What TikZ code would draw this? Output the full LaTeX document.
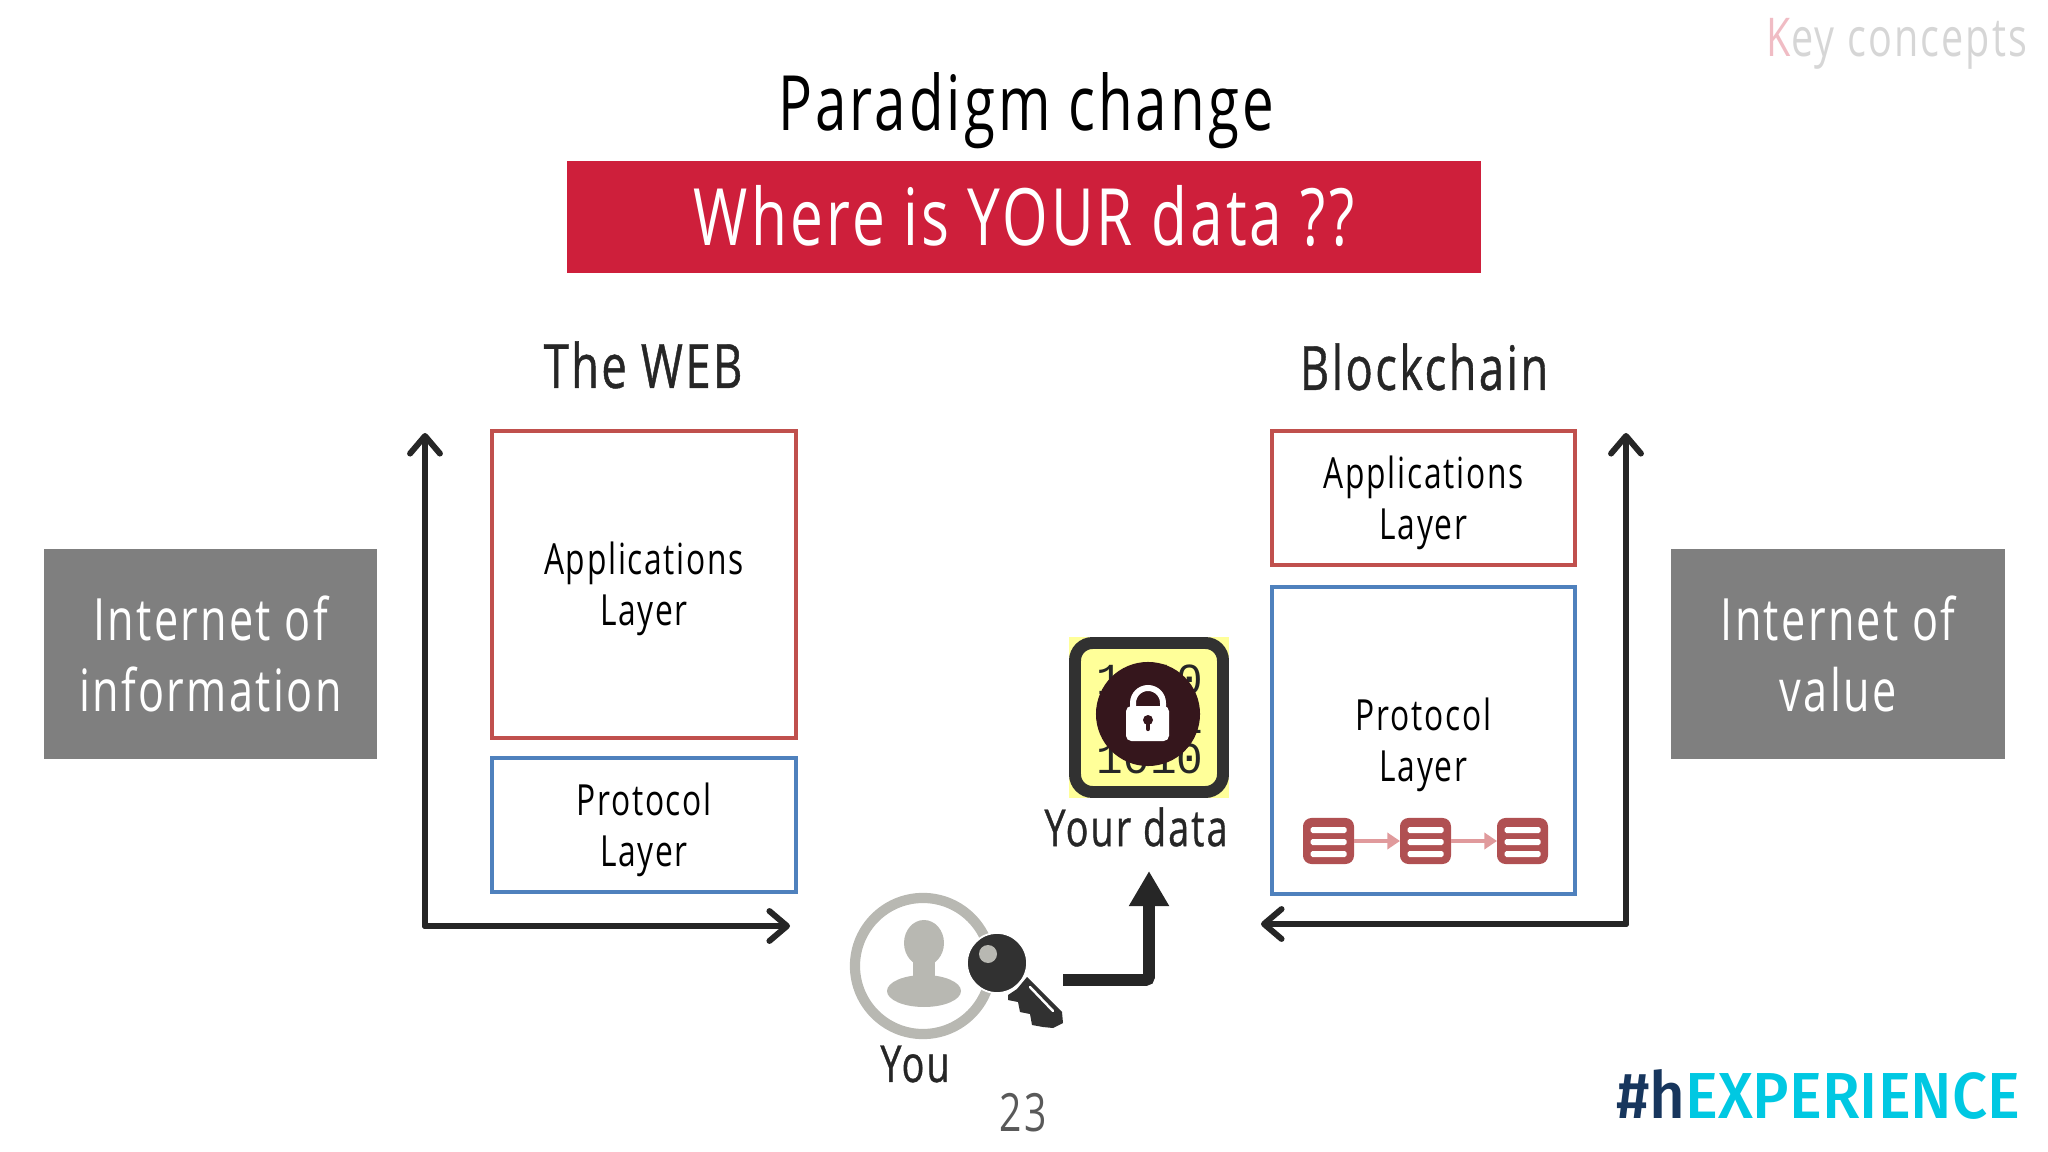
\documentclass[tikz,border=0pt]{standalone}
\usepackage{fontspec}
\setmainfont[FakeStretch=0.74,LetterSpace=4]{Open Sans}
\newfontfamily\headfont[FakeStretch=0.74,LetterSpace=4,FakeBold=0.7]{Open Sans}
\newfontfamily\logofont[FakeStretch=0.95]{Fira Sans Medium}
\newfontfamily\bitsfont{Liberation Mono}
\usetikzlibrary{arrows.meta}

\definecolor{bannerred}{HTML}{CE1F3B}
\definecolor{layerred}{HTML}{C0504D}
\definecolor{layerblue}{HTML}{4F81BD}
\definecolor{sidegrey}{HTML}{7F7F7F}
\definecolor{inkdark}{HTML}{262626}
\definecolor{personfill}{HTML}{B8B8B2}
\definecolor{iconyellow}{HTML}{FFFF99}
\definecolor{lockdark}{HTML}{35161C}
\definecolor{blockred}{HTML}{B05052}
\definecolor{linkpink}{HTML}{E09A9C}
\definecolor{logonavy}{HTML}{17365D}
\definecolor{logocyan}{HTML}{00C8E2}

\newcommand{\layerdrop}{\rule{0pt}{11.9pt}}

\tikzset{
  layerbox/.style={rectangle, draw, line width=1.1pt, minimum width=3.03cm,
      align=center, outer sep=0pt, inner sep=0pt,
      font=\fontsize{12.2}{14.6}\selectfont},
  sidebox/.style={rectangle, fill=sidegrey, text=white, minimum width=3.33cm,
      minimum height=2.09cm, align=center, outer sep=0pt, inner sep=0pt,
      font=\fontsize{16.6}{20.4}\selectfont},
  headlabel/.style={inner sep=0pt, text=inkdark, font=\headfont\fontsize{17.4}{20}\selectfont},
  smalllabel/.style={inner sep=0pt, text=inkdark, font=\headfont\fontsize{14.5}{17}\selectfont},
  axisline/.style={draw=inkdark, line width=1.7pt, line cap=round,
      -{Straight Barb[length=5pt,width=8.5pt,line width=1.7pt,round]}},
  blockbox/.style={rectangle, rounded corners=2.4pt, fill=blockred,
      minimum width=0.51cm, minimum height=0.46cm, inner sep=0pt, outer sep=0pt},
  blocklink/.style={draw=linkpink, line width=1.1pt,
      -{Triangle[length=3.6pt,width=4.6pt]}},
  bitsrow/.style={inner sep=0pt, text=inkdark, font=\bitsfont\fontsize{12.6}{14}\selectfont},
}

\begin{document}
\begin{tikzpicture}[x=0.01cm, y=-0.01cm]
\useasboundingbox (0,0) rectangle (2048,1152);

% heading
\node[inner sep=0pt, font=\fontsize{21.7}{26}\selectfont] (title) at (1026,111) {Paradigm change};
\node[rectangle, fill=bannerred, text=white, minimum width=9.14cm, minimum height=1.12cm,
      outer sep=0pt, inner sep=0pt, font=\fontsize{22.5}{26}\selectfont]
(banner) at (1024,217) {\raisebox{0.03cm}{Where is YOUR data ??}};

\node[inner sep=0pt, text=black!30, font=\fontsize{15.2}{17}\selectfont]
(keyconcepts) at (1897,44) {\textcolor{bannerred!30}{K}\textcolor{black!16}{ey concepts}};

% the two stacks
\node[headlabel] (webtitle) at (643,365) {The WEB};
\node[headlabel] (chaintitle) at (1424,367) {Blockchain};

\node[layerbox, draw=layerred, minimum height=3.07cm] (webapps) at (644,584.5) {\layerdrop Applications\\Layer};
\node[layerbox, draw=layerblue, minimum height=1.34cm] (webproto) at (644,825) {\layerdrop Protocol\\Layer};

\node[layerbox, draw=layerred, minimum height=1.34cm] (chainapps) at (1423.5,498) {\layerdrop Applications\\Layer};
\node[layerbox, draw=layerblue, minimum height=3.07cm] (chainproto) at (1423.5,740.5) {\layerdrop Protocol\\Layer};

% grey side boxes
\node[sidebox] (webside) at (210.5,654) {Internet of\\information};
\node[sidebox] (chainside) at (1838,654) {Internet of\\value};

% axes
\coordinate (weborigin) at (425,926);
\coordinate (webtop) at (425,433);
\coordinate (webend) at (790,926);
\coordinate (chainorigin) at (1626,924);
\coordinate (chaintop) at (1626,433);
\coordinate (chainend) at (1261,924);
\draw[axisline] (weborigin) -- (webtop);
\draw[axisline] (weborigin) -- (webend);
\draw[axisline] (chainorigin) -- (chaintop);
\draw[axisline] (chainorigin) -- (chainend);

% chain of blocks
\foreach \n/\xb in {1/1328.5, 2/1425.5, 3/1522.5} {
  \node[blockbox] (block\n) at (\xb,841) {};
  \foreach \yb in {830,842,854}
    \fill[white, rounded corners=0.5pt] (\xb-18,\yb-3) rectangle (\xb+18,\yb+3);
}
\draw[blocklink] (block1) -- (block2);
\draw[blocklink] (block2) -- (block3);

% data icon
\node[rectangle, fill=iconyellow, minimum width=1.6cm, minimum height=1.61cm,
      inner sep=0pt, outer sep=0pt] (dataicon) at (1149,717.5) {};
\node[bitsrow] (bitsa) at (1150,680) {1010};
\node[bitsrow] (bitsb) at (1150,719) {0101};
\node[bitsrow] (bitsc) at (1150,759) {1010};
\draw[draw=inkdark!95, line width=3.4pt, rounded corners=5pt] (1075,643) rectangle (1223,792);
\node[circle, fill=lockdark, minimum size=1.04cm, inner sep=0pt] (lockdisc) at (1148,714) {};
\draw[white, line width=1.7pt] (1133,708) -- (1133,703) arc[start angle=180, end angle=360, radius=15] -- (1163,708);
\fill[white, rounded corners=1.5pt] (1126,706) rectangle (1169,741);
\fill[lockdark] (1148,720) circle[radius=5];
\draw[lockdark, line width=1.2pt, line cap=round] (1148,720) -- (1148,729);

\node[smalllabel] (datalabel) at (1136,827) {Your data};

% person with key
\node[circle, draw=personfill, line width=2.9pt, minimum size=1.36cm, inner sep=0pt] (you) at (923,966) {};
\fill[personfill] (924,943) ellipse[x radius=20, y radius=23];
\fill[personfill] (924,991) ellipse[x radius=37, y radius=16];
\fill[personfill] (913,953) rectangle (935,983);
\node[smalllabel] (youlabel) at (915,1064) {You};

\fill[inkdark!95] (1027,977) -- (1062,1012) -- (1063,1023) -- (1053,1028) -- (1043,1027)
  -- (1032,1025) -- (1030,1014) -- (1020,1012) -- (1018,1002) -- (1008,1000) -- (1008,995)
  -- (1017,989) -- cycle;
\draw[white, line width=0.7pt, line cap=round] (1030,987) -- (1053,1011);
\node[circle, fill=inkdark!95, draw=white, line width=0.5pt, minimum size=0.6cm, inner sep=0pt] (keyhead) at (997,963) {};
\fill[personfill] (988,954) circle[radius=9];

% arrow to the data
\coordinate (keyout) at (1063,980);
\coordinate (datain) at (1149,871);
\draw[draw=inkdark, line width=3.4pt, rounded corners=1pt,
      -{Triangle[length=10pt,width=10.8pt]}] (keyout) -| (datain);

% footer
\node[inner sep=0pt, text=black!65, font=\fontsize{15}{17}\selectfont] (pagenum) at (1023,1113) {23};
\node[anchor=base east, inner sep=0pt, font=\logofont\fontsize{18.5}{20}\selectfont] (logo)
  at (2021,1118) {\textcolor{logonavy}{\#h}\textcolor{logocyan}{EXPERIENCE}};

\end{tikzpicture}
\end{document}
